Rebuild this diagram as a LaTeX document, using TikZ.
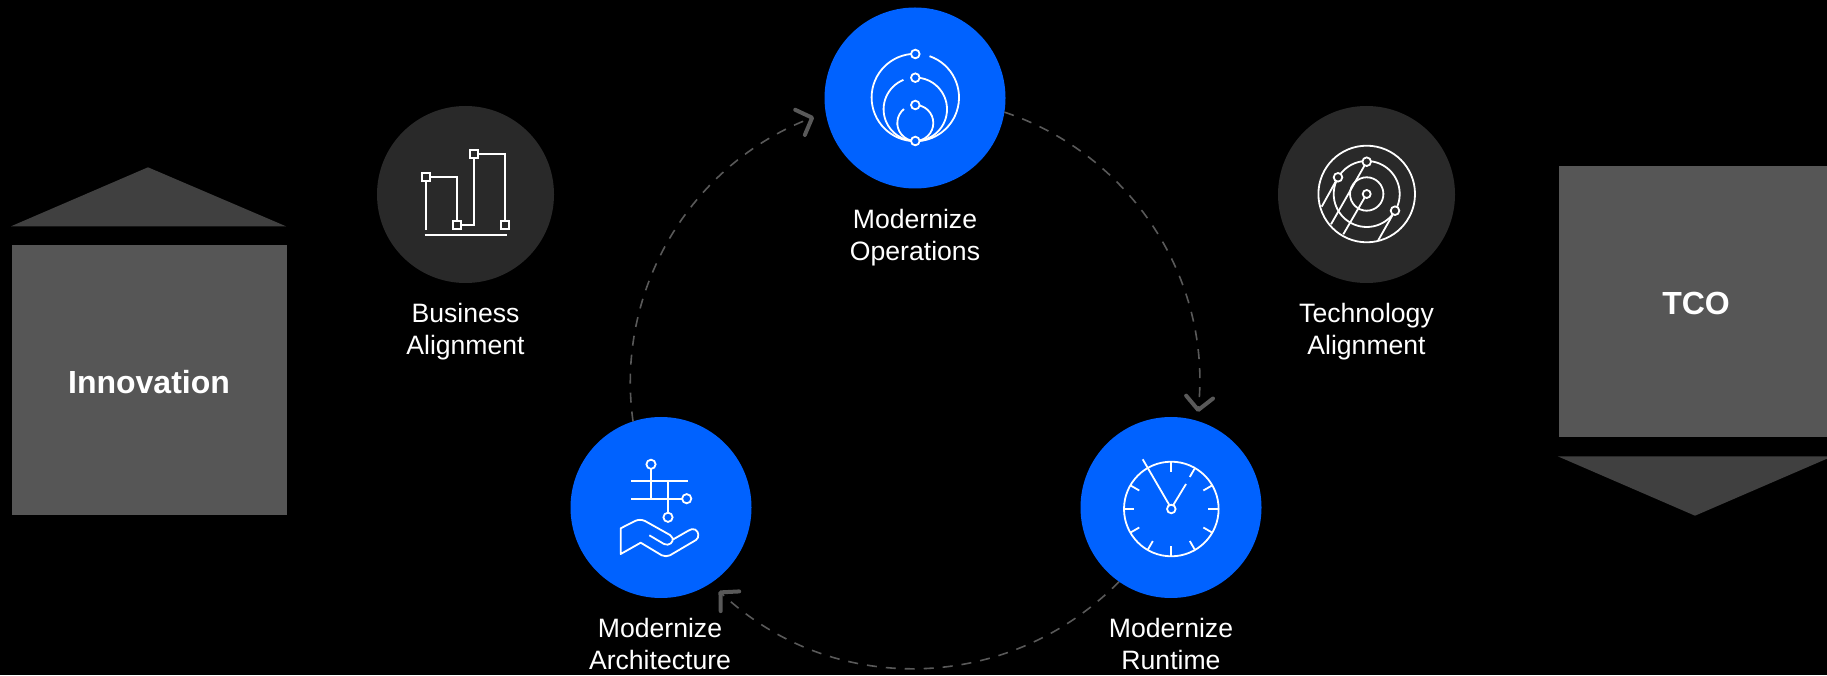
\documentclass[tikz,border=0pt]{standalone}
\usepackage{fontspec}
\setmainfont{Liberation Sans}
\usetikzlibrary{arrows.meta}
\definecolor{ibmblue}{HTML}{0062FF}
\definecolor{darkdisc}{HTML}{292929}
\definecolor{panel}{HTML}{565656}
\definecolor{roof}{HTML}{404040}
\definecolor{dashgray}{HTML}{595959}
\tikzset{
  bluedisc/.style={circle,fill=ibmblue,minimum size=181pt,inner sep=0pt,outer sep=0pt},
  greydisc/.style={circle,fill=darkdisc,minimum size=177pt,inner sep=0pt,outer sep=0pt},
  panelbox/.style={fill=panel,inner sep=0pt,outer sep=0pt,anchor=north west},
  rooftri/.style={fill=roof},
  caption/.style={text=white,align=center,font=\fontsize{26.6}{32}\selectfont},
  bigword/.style={text=white,font=\fontsize{32}{38}\selectfont\bfseries},
  flow/.style={draw=dashgray,line width=1.6pt,dash pattern=on 10pt off 9pt,
    -{Straight Barb[length=13pt,width=27pt,line width=4pt,round=false,color=dashgray]}},
  icon/.style={draw=white,line width=1.8pt},
  pix/.style={shift={(0,675)},yscale=-1},
}
\begin{document}
\begin{tikzpicture}[x=1pt,y=1pt]
\path[fill=black] (0,0) rectangle (1827,675);
\useasboundingbox (0,0) rectangle (1827,675);

% side panels
\node[panelbox,minimum width=274.7pt,minimum height=270pt] (inno) at (12,430) {};
\node[bigword] (innotext) at (149,293) {Innovation};
\fill[rooftri,pix] (11,226.3) -- (148,167.3) -- (286,226.3) -- cycle;
\node[panelbox,minimum width=270pt,minimum height=271.5pt] (tco) at (1559,509) {};
\node[bigword] (tcotext) at (1696,372) {TCO};
\fill[rooftri,pix] (1557.7,456.3) -- (1695,515.7) -- (1832.5,456.3) -- cycle;

% discs
\node[bluedisc] (ops) at (915,577) {};
\node[bluedisc] (arch) at (661,167.5) {};
\node[bluedisc] (run) at (1171,167.5) {};
\node[greydisc] (biz) at (465.5,480.5) {};
\node[greydisc] (tech) at (1366.5,480.5) {};

% captions
\node[caption] (opsl) at (915,437.5) {Modernize\\Operations};
\node[caption] (bizl) at (465.5,343.5) {Business\\Alignment};
\node[caption] (techl) at (1366.5,343.5) {Technology\\Alignment};
\node[caption] (archl) at (660,31) {Modernize\\Architecture};
\node[caption] (runl) at (1171,31) {Modernize\\Runtime};

% arrow ends
\coordinate (tipa) at (1198,263);
\coordinate (tipb) at (719,84);
\coordinate (tipc) at (814,558);

% dashed cycle
\draw[flow] (ops.-9.5) to[out=-18.5,in=84,looseness=0.955] (tipa);
\draw[flow] (run.-125) to[out=-134.6,in=-43.2,looseness=1] (tipb);
\draw[flow] (arch.108.7) to[out=98,in=-159,looseness=0.955] (tipc);

% Modernize Operations icon
\begin{scope}[pix,icon]
\draw (915.3,97.5) ++(-90:43.7) arc[start angle=-90,end angle=-270,radius=43.7];
\draw (915.3,97.5) ++(-71:43.7) arc[start angle=-71,end angle=90,radius=43.7];
\draw (915.3,109.3) ++(-90:31.7) arc[start angle=-90,end angle=90,radius=31.7];
\draw (915.3,109.3) ++(-112:31.7) arc[start angle=-112,end angle=-270,radius=31.7];
\draw (915.3,123) ++(-90:18) arc[start angle=-90,end angle=90,radius=18];
\draw (915.3,123) ++(-129:18) arc[start angle=-129,end angle=-270,radius=18];
\filldraw[fill=ibmblue] (915.3,54) circle[radius=4.3];
\filldraw[fill=ibmblue] (915.3,77.7) circle[radius=4.3];
\filldraw[fill=ibmblue] (915.3,105) circle[radius=4.3];
\filldraw[fill=ibmblue] (915.3,141) circle[radius=4.3];
\end{scope}

% Business icon
\begin{scope}[pix,icon]
\draw (426,181.3) -- (426,230);
\draw (430,177) -- (457,177) -- (457,221.3);
\draw (461,225.3) -- (474,225.3) -- (474,158.3);
\draw (478,154.3) -- (505,154.3) -- (505,221.3);
\draw (424.7,235.3) -- (506.7,235.3);
\draw (422,173) rectangle (430,181);
\draw (453,221.3) rectangle (461,229.3);
\draw (470,150.3) rectangle (478,158.3);
\draw (501,221.3) rectangle (509,229.3);
\end{scope}

% Technology icon
\begin{scope}[pix,icon]
\draw (1366.7,194) circle[radius=48.3];
\draw (1366.7,194) circle[radius=33];
\draw (1366.7,194) circle[radius=16.7];
\draw (1338,177.3) -- (1321.7,206.7);
\draw (1366.7,161.7) -- (1331,224.3);
\draw (1366.7,194) -- (1343.3,234.3);
\draw (1395,210.7) -- (1378,240.7);
\filldraw[fill=darkdisc] (1366.7,194) circle[radius=4];
\filldraw[fill=darkdisc] (1338,177.3) circle[radius=4.3];
\filldraw[fill=darkdisc] (1366.7,161.7) circle[radius=4.3];
\filldraw[fill=darkdisc] (1395,210.7) circle[radius=4.3];
\end{scope}

% Architecture icon
\begin{scope}[pix,icon]
\draw (631,481.3) -- (688.3,481.3);
\draw (631,498.7) -- (682.7,498.7);
\draw (651,469) -- (651,498.7);
\draw (668,481.3) -- (668,513);
\draw (651,464.3) circle[radius=4.6];
\draw (686.7,498.7) circle[radius=4.6];
\draw (668,517.3) circle[radius=4.6];
\draw[line join=round] (649.3,535.3) -- (664,544) .. controls (669,546.5) and (674,542) .. (672.5,538)
  .. controls (672,536.5) and (671,535.7) .. (670,535) -- (645,521)
  .. controls (642,519.5) and (638,519.5) .. (635,521) -- (620.7,528.3) -- (620.7,554) -- (640.7,542.7)
  -- (661.7,555.3) .. controls (664.5,556.5) and (667.5,556.5) .. (670,555.3)
  -- (696,540) .. controls (699.5,537.5) and (699,531.5) .. (695,529.5)
  .. controls (693,528.5) and (690.5,529.3) .. (688.3,530.7) -- (673.3,539.3);
\end{scope}

% Runtime icon
\begin{scope}[pix,icon]
\draw (1171.3,509) circle[radius=47.3];
\draw (1171.3,509) circle[radius=4.3];
\foreach \a in {-90,-60,-30,0,30,60,90,120,150,180,210}
  \draw (1171.3,509) ++(\a:47.3) -- ++(\a+180:10.3);
\draw (1169.3,505) -- (1142.7,459.3);
\draw (1173.3,505) -- (1186,484);
\end{scope}
\end{tikzpicture}
\end{document}
